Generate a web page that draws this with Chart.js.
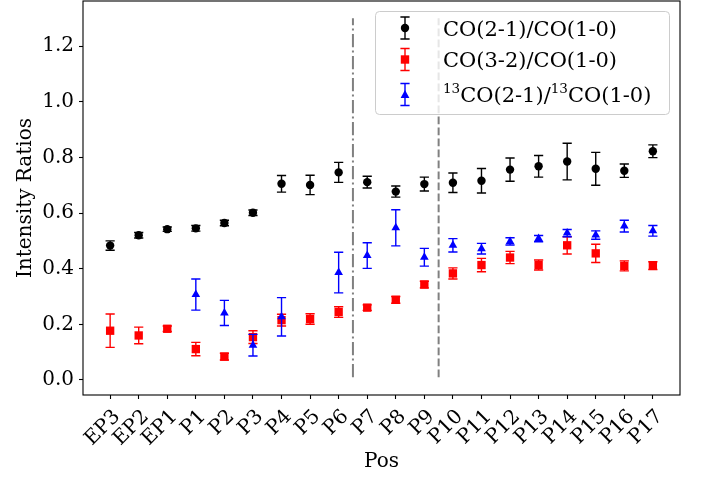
<!DOCTYPE html>
<html>
<head>
<meta charset="utf-8">
<script src="https://cdn.jsdelivr.net/npm/chart.js@4.4.0/dist/chart.umd.min.js"></script>
<style>
  html, body { margin: 0; padding: 0; background: #fff; }
  #wrap { width: 706px; height: 481px; }
</style>
</head>
<body>
<div id="wrap"><canvas id="ratioChart" width="706" height="481"></canvas></div>
<script>
const positions = ['EP3', 'EP2', 'EP1', 'P1', 'P2', 'P3', 'P4', 'P5', 'P6', 'P7',
    'P8', 'P9', 'P10', 'P11', 'P12', 'P13', 'P14', 'P15', 'P16', 'P17'];

const seriesLabels = ['CO(2-1)/CO(1-0)', 'CO(3-2)/CO(1-0)', '¹³CO(2-1)/¹³CO(1-0)'];

const co21 = [0.483, 0.520, 0.542, 0.545, 0.564, 0.601, 0.705, 0.701, 0.746, 0.711,
    0.677, 0.704, 0.709, 0.716, 0.756, 0.768, 0.785, 0.759, 0.752, 0.822];
const co21Err = [0.017, 0.010, 0.008, 0.010, 0.010, 0.010, 0.030, 0.035, 0.036, 0.021,
    0.020, 0.025, 0.035, 0.044, 0.042, 0.039, 0.066, 0.059, 0.024, 0.023];

const co32 = [0.177, 0.160, 0.184, 0.111, 0.084, 0.154, 0.215, 0.219, 0.244, 0.260,
    0.288, 0.343, 0.383, 0.413, 0.440, 0.413, 0.484, 0.455, 0.410, 0.411];
const co32Err = [0.060, 0.030, 0.010, 0.024, 0.012, 0.023, 0.021, 0.019, 0.019, 0.010,
    0.012, 0.012, 0.020, 0.024, 0.022, 0.018, 0.031, 0.033, 0.018, 0.014];

const iso21 = [null, null, null, 0.307, 0.241, 0.125, 0.227, null, 0.386, 0.447,
    0.547, 0.441, 0.484, 0.472, 0.498, 0.508, 0.528, 0.521, 0.553, 0.536];
const iso21Err = [null, null, null, 0.056, 0.045, 0.039, 0.069, null, 0.073, 0.046,
    0.065, 0.032, 0.024, 0.019, 0.013, 0.011, 0.013, 0.015, 0.021, 0.019];

const yTicks = [0.0, 0.2, 0.4, 0.6, 0.8, 1.0, 1.2];

// region boundaries (between P6/P7 and P9/P10)
const dividers = [8.5, 11.5];
const dividerSpan = [0.01, 1.3];

const FONT = "'DejaVu Serif', 'Liberation Serif', serif";
const SUP = { '¹': '1', '²': '2', '³': '3', '⁰': '0' };

function toPoints(values) {
    return values.map((v, i) => ({ x: i, y: v })).filter(p => p.y !== null);
}

function drawMarker(ctx, style, x, y, color) {
    ctx.fillStyle = color;
    ctx.beginPath();
    if (style === 'circle') {
        ctx.arc(x, y, 4.2, 0, Math.PI * 2);
    } else if (style === 'rect') {
        ctx.rect(x - 4.2, y - 4.2, 8.4, 8.4);
    } else {
        ctx.moveTo(x, y - 4.6);
        ctx.lineTo(x + 4.4, y + 3.6);
        ctx.lineTo(x - 4.4, y + 3.6);
        ctx.closePath();
    }
    ctx.fill();
}

function drawErrorBar(ctx, x, top, bot, color) {
    ctx.strokeStyle = color;
    ctx.lineWidth = 1.4;
    ctx.beginPath();
    ctx.moveTo(x, top); ctx.lineTo(x, bot);
    ctx.moveTo(x - 4.6, top); ctx.lineTo(x + 4.6, top);
    ctx.moveTo(x - 4.6, bot); ctx.lineTo(x + 4.6, bot);
    ctx.stroke();
}

// label text with superscript digits drawn smaller and raised
function drawRichText(ctx, text, x, baseline) {
    let i = 0;
    while (i < text.length) {
        const isSup = text[i] in SUP;
        let run = '';
        while (i < text.length && (text[i] in SUP) === isSup) {
            run += isSup ? SUP[text[i]] : text[i];
            i++;
        }
        ctx.font = (isSup ? '13.5px ' : '21px ') + FONT;
        ctx.fillText(run, x, isSup ? baseline - 9 : baseline);
        x += ctx.measureText(run).width;
    }
}

const errorBars = {
    id: 'errorBars',
    beforeDatasetDraw(chart, args) {
        const ds = chart.data.datasets[args.index];
        const { x, y } = chart.scales;
        const ctx = chart.ctx;
        ctx.save();
        ds.data.forEach(pt => {
            const e = ds.errors[pt.x];
            drawErrorBar(ctx, x.getPixelForValue(pt.x),
                y.getPixelForValue(pt.y + e), y.getPixelForValue(pt.y - e), ds.borderColor);
        });
        ctx.restore();
    }
};

const dividerLines = {
    id: 'dividerLines',
    beforeDatasetsDraw(chart) {
        const { x, y } = chart.scales;
        const ctx = chart.ctx;
        const dashes = [[13.3, 3.3, 2.1, 3.3], [7.7, 3.3]];
        ctx.save();
        ctx.strokeStyle = '#808080';
        ctx.lineWidth = 2;
        dividers.forEach((d, i) => {
            const px = x.getPixelForValue(d);
            ctx.setLineDash(dashes[i]);
            ctx.beginPath();
            ctx.moveTo(px, y.getPixelForValue(dividerSpan[0]));
            ctx.lineTo(px, y.getPixelForValue(dividerSpan[1]));
            ctx.stroke();
        });
        ctx.restore();
    }
};

const frameAndLegend = {
    id: 'frameAndLegend',
    afterDatasetsDraw(chart) {
        const ctx = chart.ctx;
        const a = chart.chartArea;
        ctx.save();
        // legend box
        ctx.fillStyle = 'rgba(255,255,255,0.8)';
        ctx.strokeStyle = '#cccccc';
        ctx.lineWidth = 1;
        ctx.beginPath();
        ctx.roundRect(375.5, 11.5, 294, 103, 4);
        ctx.fill();
        ctx.stroke();
        const rows = [28, 59.5, 94.5];
        chart.data.datasets.forEach((ds, i) => {
            const cx = 405, cy = rows[i];
            drawErrorBar(ctx, cx, cy - 11, cy + 11, ds.borderColor);
            drawMarker(ctx, ds.legendMarker, cx, cy, ds.backgroundColor);
            ctx.fillStyle = '#000';
            ctx.textBaseline = 'alphabetic';
            drawRichText(ctx, seriesLabels[i], 443, cy + 7.5);
        });
        // axes frame
        ctx.strokeStyle = '#000';
        ctx.lineWidth = 1.1;
        ctx.strokeRect(a.left, a.top, a.right - a.left, a.bottom - a.top);
        ctx.restore();
    }
};

const ctx = document.getElementById('ratioChart').getContext('2d');

new Chart(ctx, {
    type: 'scatter',
    data: {
        datasets: [
            {
                label: seriesLabels[0], data: toPoints(co21), errors: co21Err,
                pointStyle: 'circle', legendMarker: 'circle', pointRadius: 4.2,
                backgroundColor: '#000000', borderColor: '#000000', borderWidth: 0, order: 3
            },
            {
                label: seriesLabels[1], data: toPoints(co32), errors: co32Err,
                pointStyle: 'rect', legendMarker: 'rect', pointRadius: 5.9,
                backgroundColor: '#ff0000', borderColor: '#ff0000', borderWidth: 0, order: 2
            },
            {
                label: seriesLabels[2], data: toPoints(iso21), errors: iso21Err,
                pointStyle: 'triangle', legendMarker: 'triangle', pointRadius: 5.0,
                backgroundColor: '#0000ff', borderColor: '#0000ff', borderWidth: 0, order: 1
            }
        ]
    },
    options: {
        responsive: false,
        animation: false,
        events: [],
        layout: { autoPadding: false, padding: { top: 1, right: 26, left: 0, bottom: 0 } },
        plugins: {
            legend: { display: false },
            tooltip: { enabled: false }
        },
        scales: {
            x: {
                type: 'linear',
                min: -0.95,
                max: 19.95,
                afterBuildTicks: scale => { scale.ticks = positions.map((_, i) => ({ value: i })); },
                afterFit: scale => {
                    scale.height = 86;
                    scale.paddingLeft = 0;
                    scale.paddingRight = 0;
                },
                grid: { drawOnChartArea: false, tickLength: 4, color: '#000', tickWidth: 1.1 },
                border: { display: false },
                ticks: {
                    autoSkip: false,
                    minRotation: 45,
                    maxRotation: 45,
                    padding: 6,
                    labelOffset: 7,
                    color: '#000',
                    font: { family: FONT, size: 20 },
                    callback: v => positions[v]
                },
                title: {
                    display: true, text: 'Pos', color: '#000',
                    font: { family: FONT, size: 20, lineHeight: 1.2 },
                    padding: { top: 0, bottom: 7 }
                }
            },
            y: {
                min: -0.054,
                max: 1.362,
                afterBuildTicks: scale => { scale.ticks = yTicks.map(v => ({ value: v })); },
                afterFit: scale => {
                    scale.width = 83;
                    scale.paddingTop = 0;
                    scale.paddingBottom = 0;
                },
                grid: { drawOnChartArea: false, tickLength: 4, color: '#000', tickWidth: 1.1 },
                border: { display: false },
                ticks: {
                    padding: 5,
                    color: '#000',
                    font: { family: FONT, size: 20 },
                    callback: v => v.toFixed(1)
                },
                title: {
                    display: true, text: 'Intensity Ratios', color: '#000',
                    font: { family: FONT, size: 20, lineHeight: 1.2 },
                    padding: { top: 14, bottom: 0 }
                }
            }
        }
    },
    plugins: [errorBars, dividerLines, frameAndLegend]
});
</script>
</body>
</html>
